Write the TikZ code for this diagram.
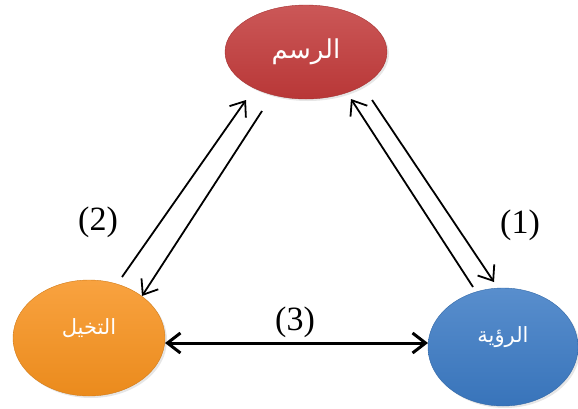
\documentclass[tikz,border=0pt]{standalone}
\usepackage{fontspec}
\setmainfont{Liberation Serif}
\newfontfamily\arabicfont[Script=Arabic]{DejaVu Sans}
\TeXXeTstate=1
\usetikzlibrary{shapes.geometric,arrows.meta,shadows}
\definecolor{rasmred}{HTML}{C23A3A}
\definecolor{takhorange}{HTML}{F7921E}
\definecolor{ruyablue}{HTML}{3B7AC4}
\newcommand{\uptext}[1]{\raisebox{10pt}[\height][\depth]{#1}}
\begin{document}
\begin{tikzpicture}[x=1pt,y=-1pt,
	bubble/.style={ellipse,inner sep=0pt,text=white,
		top color=#1!85!white,bottom color=#1!95!black,
		draw=#1!85!black,line width=.4pt,
		drop shadow={opacity=.2,shadow xshift=2pt,shadow yshift=-2pt}},
	link/.style={line width=1.8pt,-{Straight Barb[length=13pt,width=20pt]}},
	num/.style={font=\fontsize{34}{36}\selectfont}]
	\useasboundingbox (0,0) rectangle (578,408);
	\node[bubble=rasmred,minimum width=162pt,minimum height=94pt,
		font=\arabicfont\fontsize{26}{30}\selectfont] (rasm) at (306,52) {\beginR الرسم\endR};
	\node[bubble=takhorange,minimum width=152pt,minimum height=116pt,
		font=\arabicfont\fontsize{21}{25}\selectfont] (takh) at (89,338) {\uptext{\beginR التخيل\endR}};
	\node[bubble=ruyablue,minimum width=150pt,minimum height=118pt,
		font=\arabicfont\fontsize{21}{25}\selectfont] (ruya) at (503,347) {\uptext{\beginR الرؤية\endR}};
	% left pair
	\draw[link] ([shift={(33,-61)}]takh.center) -- ([shift={(-60,48)}]rasm.center);
	\draw[link] ([shift={(-44,59)}]rasm.center) -- ([shift={(53,-42)}]takh.center);
	% right pair
	\draw[link] ([shift={(-30,-60)}]ruya.center) -- ([shift={(45,47)}]rasm.center);
	\draw[link] ([shift={(66,48)}]rasm.center) -- ([shift={(-9,-65)}]ruya.center);
	% bottom
	\draw[link,line width=3pt,{Straight Barb[length=13pt,width=20pt]}-{Straight Barb[length=13pt,width=20pt]}]
		([shift={(76,5)}]takh.center) -- ([shift={(-75,-4)}]ruya.center);
	\node[num] (n2) at (98,222) {(2)};
	\node[num] (n1) at (520,225) {(1)};
	\node[num] (n3) at (295,322) {(3)};
\end{tikzpicture}
\end{document}
